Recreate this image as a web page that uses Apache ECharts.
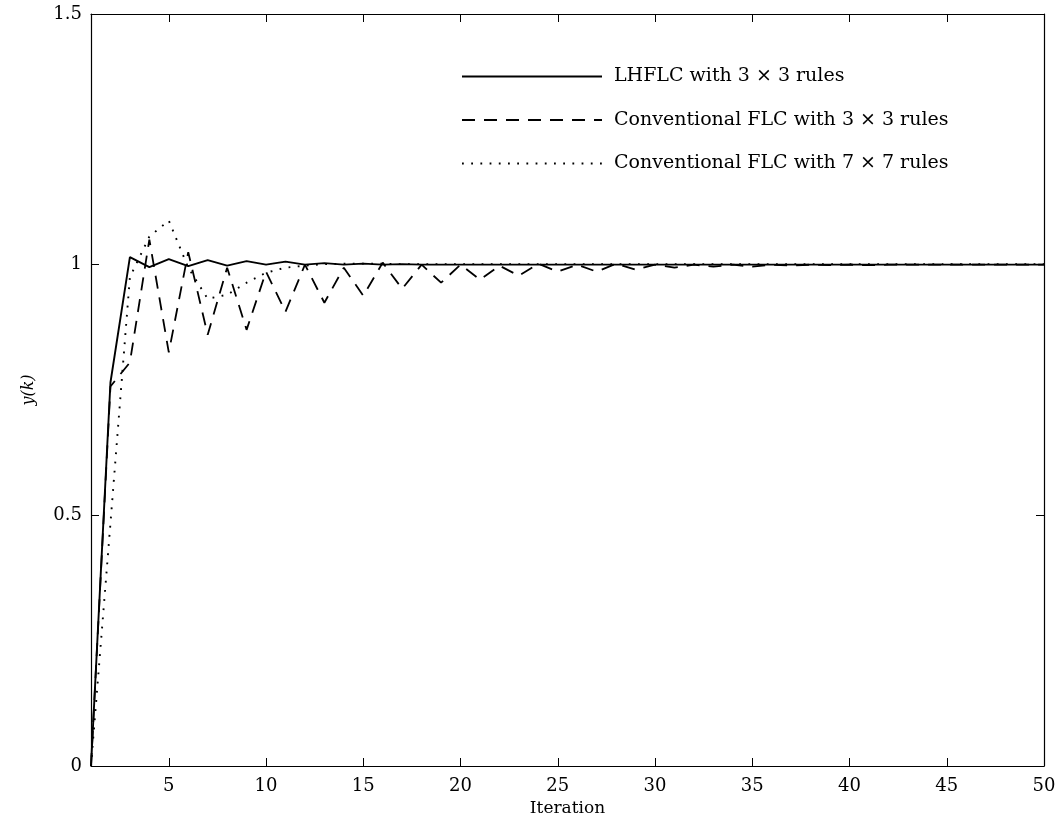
<!DOCTYPE html>
<html>
<head>
<meta charset="utf-8">
<script src="https://cdn.jsdelivr.net/npm/echarts@6/dist/echarts.min.js"></script>
<style>html,body{margin:0;padding:0;background:#fff}#c{width:1060px;height:823px}</style>
</head>
<body>
<div id="c"></div>
<script>
const iterations = Array.from({length: 50}, (_, i) => i + 1);
const lhflc3 = [0, 0.765, 1.015, 0.995, 1.011, 0.997, 1.009, 0.998, 1.007, 1.0,
  1.006, 1.0, 1.003, 1.0, 1.002, 1.0, 1.001, 1.0, 1.0, 1.0,
  1.0, 1.0, 1.0, 1.0, 1.0, 1.0, 1.0, 1.0, 1.0, 1.0,
  1.0, 1.0, 1.0, 1.0, 1.0, 1.0, 1.0, 1.0, 1.0, 1.0,
  1.0, 1.0, 1.0, 1.0, 1.0, 1.0, 1.0, 1.0, 1.0, 1.0];
const conv3 = [0, 0.757, 0.805, 1.05, 0.825, 1.025, 0.86, 0.994, 0.87, 0.986,
  0.906, 1.0, 0.924, 0.994, 0.938, 1.004, 0.952, 1.0, 0.964, 1.0,
  0.97, 0.998, 0.978, 1.002, 0.986, 1.0, 0.986, 1.002, 0.99, 1.0,
  0.994, 1.0, 0.996, 1.0, 0.996, 1.0, 0.998, 1.0, 0.999, 1.0,
  0.999, 1.0, 1.0, 1.0, 1.0, 1.0, 1.0, 1.0, 1.0, 1.0];
const conv7 = [0, 0.484, 0.975, 1.056, 1.088, 0.994, 0.932, 0.94, 0.964, 0.984,
  0.994, 0.998, 1.001, 1.002, 1.002, 1.002, 1.001, 1.001, 1.001, 1.001,
  1.001, 1.001, 1.001, 1.001, 1.001, 1.001, 1.001, 1.001, 1.001, 1.001,
  1.001, 1.001, 1.001, 1.001, 1.001, 1.001, 1.001, 1.001, 1.001, 1.001,
  1.001, 1.001, 1.001, 1.001, 1.001, 1.001, 1.001, 1.001, 1.001, 1.001];
const xTicks = [5, 10, 15, 20, 25, 30, 35, 40, 45, 50];
const seriesNames = ['LHFLC with 3 × 3 rules', 'Conventional FLC with 3 × 3 rules', 'Conventional FLC with 7 × 7 rules'];

const FONT = 'DejaVu Serif';
const pairs = arr => iterations.map((k, i) => [k, arr[i]]);
const chart = echarts.init(document.getElementById('c'), null, {renderer: 'canvas'});
const tickStyle = {show: true, inside: true, length: 8, lineStyle: {color: '#000', width: 1}};
chart.setOption({
  animation: false,
  backgroundColor: '#fff',
  grid: {left: 91, right: 16, top: 14, bottom: 57, containLabel: false},
  legend: {
    orient: 'vertical', left: 456, top: 61, itemWidth: 140, itemHeight: 14, itemGap: 22.5,
    itemStyle: {color: 'rgba(0,0,0,0)', borderWidth: 0, opacity: 0},
    textStyle: {fontFamily: FONT, fontSize: 19, lineHeight: 21, color: '#000', padding: [0, 0, 0, 7]},
    data: seriesNames
  },
  xAxis: [{
    type: 'value', min: 1, max: 50, position: 'bottom',
    name: 'Iteration', nameLocation: 'middle', nameGap: 31,
    nameTextStyle: {fontFamily: FONT, fontSize: 17, color: '#000'},
    axisLine: {show: true, onZero: false, lineStyle: {color: '#000', width: 1.2}},
    axisTick: Object.assign({customValues: xTicks}, tickStyle),
    axisLabel: {customValues: xTicks, margin: 11, fontFamily: FONT, fontSize: 18, color: '#000'},
    splitLine: {show: false}
  }, {
    type: 'value', min: 1, max: 50, position: 'top',
    axisLine: {show: true, onZero: false, lineStyle: {color: '#000', width: 1.2}},
    axisTick: Object.assign({customValues: xTicks}, tickStyle),
    axisLabel: {show: false}, splitLine: {show: false}
  }],
  yAxis: [{
    type: 'value', min: 0, max: 1.5, interval: 0.5, position: 'left',
    name: 'y(k)', nameLocation: 'middle', nameGap: 54,
    nameTextStyle: {fontFamily: FONT, fontSize: 16, fontStyle: 'italic', color: '#000'},
    axisLine: {show: true, onZero: false, lineStyle: {color: '#000', width: 1.2}},
    axisTick: tickStyle,
    axisLabel: {margin: 9, fontFamily: FONT, fontSize: 18, color: '#000', formatter: v => String(v)},
    splitLine: {show: false}
  }, {
    type: 'value', min: 0, max: 1.5, interval: 0.5, position: 'right',
    axisLine: {show: true, onZero: false, lineStyle: {color: '#000', width: 1.2}},
    axisTick: tickStyle, axisLabel: {show: false}, splitLine: {show: false}
  }],
  series: [
    {name: seriesNames[0], type: 'line', data: pairs(lhflc3), symbol: 'none', z: 3,
     lineStyle: {color: '#000', width: 1.9, type: 'solid'}, itemStyle: {color: '#000'}},
    {name: seriesNames[1], type: 'line', data: pairs(conv3), symbol: 'none', z: 2,
     lineStyle: {color: '#000', width: 1.8, type: [13, 9]}, itemStyle: {color: '#000'}},
    {name: seriesNames[2], type: 'line', data: pairs(conv7), symbol: 'none', z: 2,
     lineStyle: {color: '#000', width: 1.9, type: [1.8, 7.4]}, itemStyle: {color: '#000'}}
  ]
});
</script>
</body>
</html>
